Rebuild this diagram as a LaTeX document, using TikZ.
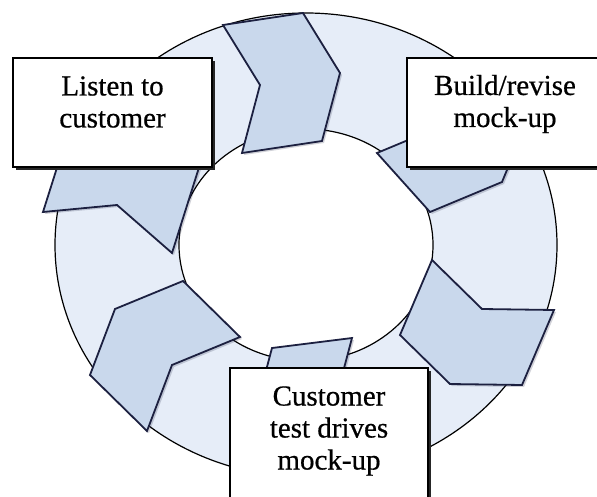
\documentclass[tikz,border=0pt]{standalone}
\usepackage{fontspec}
\setmainfont{Liberation Serif}
\newfontfamily\cardfont{Liberation Serif}[FakeBold=0.6]
\usetikzlibrary{shadows}
\definecolor{ringfill}{HTML}{E6EDF8}
\definecolor{chevfill}{HTML}{C9D8EC}
\definecolor{chevline}{HTML}{1C2040}

\begin{document}
\begin{tikzpicture}[x=1pt, y=-1pt,
  chev/.style={draw=chevline, line width=1.8pt, fill=chevfill,
    drop shadow={shadow xshift=2pt, shadow yshift=-2pt, fill=chevline, opacity=0.2}},
  card/.style={draw=black, line width=1.6pt, fill=white,
    drop shadow={shadow xshift=3pt, shadow yshift=-3pt, fill=black!85, opacity=1}},
  cardtext/.style={align=center, font=\cardfont\fontsize{29}{32}\selectfont, inner sep=0pt}]
\useasboundingbox (0,0) rectangle (597,497);

% ring
\draw[line width=1.2pt, fill=ringfill] (306,245) ellipse [x radius=251, y radius=232];
\draw[line width=1.2pt, fill=white] (306,245) ellipse [x radius=127, y radius=116];

% chevrons, going round clockwise from the top
\draw[chev] (223,25) -- (260,85) -- (242,153) -- (322,141) -- (340,73) -- (303,13) -- cycle;
\draw[chev] (377,153) -- (449,123) -- (471,70) -- (524,129) -- (502,182) -- (430,212) -- cycle;
\draw[chev] (432,260) -- (482,309) -- (554,310) -- (522,385) -- (450,384) -- (400,335) -- cycle;
\draw[chev] (352,338) -- (334,406) -- (371,466) -- (291,476) -- (254,416) -- (272,348) -- cycle;
\draw[chev] (240,337) -- (172,365) -- (147,431) -- (90,375) -- (115,309) -- (183,281) -- cycle;
\draw[chev] (43,212) -- (117,205) -- (172,253) -- (202,158) -- (147,110) -- (73,117) -- cycle;

% boxes
\node[card, minimum width=199pt, minimum height=109pt] (listen) at (112.5,112.5) {};
\node[cardtext] (listentext) at (112.5,102) {Listen to\\customer};
\node[card, minimum width=196pt, minimum height=109pt] (build) at (505,112.5) {};
\node[cardtext] (buildtext) at (505,104) {Build/revise\\mock-up};
\node[card, minimum width=198pt, minimum height=150pt] (test) at (329,443) {};
\node[cardtext] (testtext) at (329,431) {Customer\\test drives\\mock-up};
\end{tikzpicture}
\end{document}
